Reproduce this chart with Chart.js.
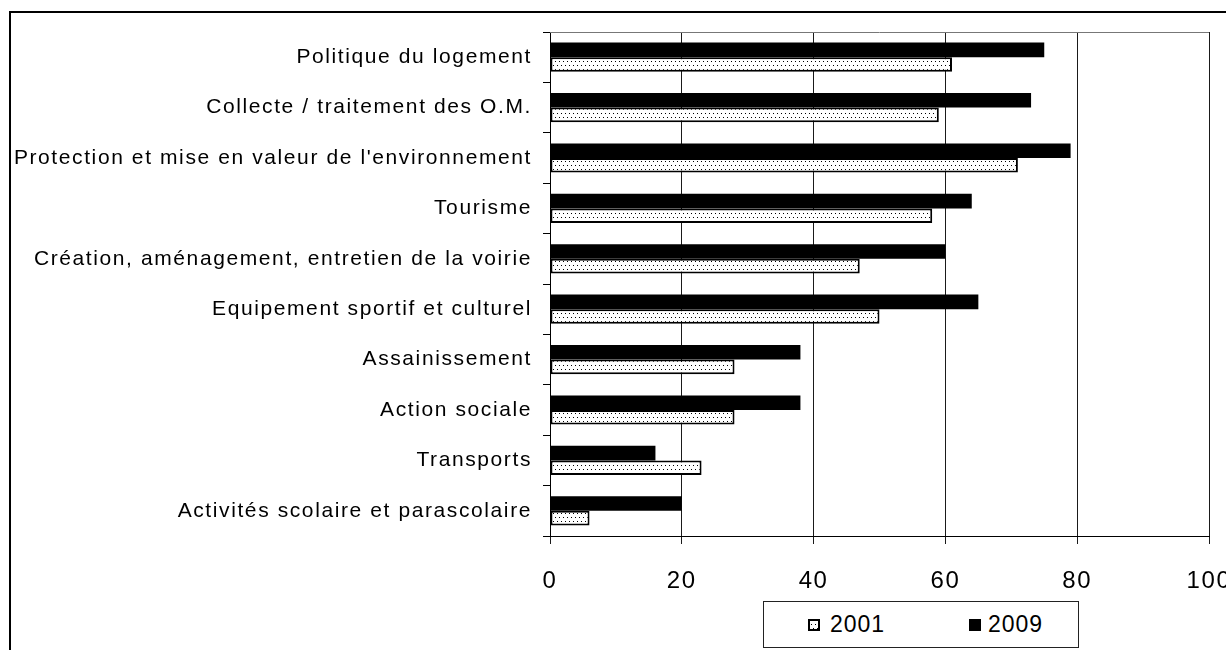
<!DOCTYPE html>
<html>
<head>
<meta charset="utf-8">
<script src="https://cdn.jsdelivr.net/npm/chart.js@4.4.1/dist/chart.umd.min.js"></script>
<style>
  html, body { margin: 0; padding: 0; background: #fff; width: 1226px; height: 650px; overflow: hidden; }
  #chart { position: absolute; left: 0; top: 0; }
  #frame { position: absolute; left: 9px; top: 11px; width: 1400px; height: 900px;
           border-left: 2px solid #000; border-top: 2px solid #000; pointer-events: none; }
  #legend { position: absolute; left: 763px; top: 601px; width: 316px; height: 47px;
            box-sizing: border-box; border: 1px solid #222; background: #fff;
            font-family: 'Liberation Sans', Arial, sans-serif; font-size: 23px; letter-spacing: 1px; color: #000; }
  #legend .sw { position: absolute; top: 17px; }
  #legend .lb { position: absolute; top: 0; line-height: 45px; }
</style>
</head>
<body>
<canvas id="chart" width="1240" height="650"></canvas>
<div id="frame"></div>
<div id="legend"></div>
<script>
// données
const categories = [
  'Politique du logement',
  'Collecte / traitement des O.M.',
  "Protection et mise en valeur de l'environnement",
  'Tourisme',
  'Création, aménagement, entretien de la voirie',
  'Equipement sportif et culturel',
  'Assainissement',
  'Action sociale',
  'Transports',
  'Activités scolaire et parascolaire'
];
const values2001 = [61, 59, 71, 58, 47, 50, 28, 28, 23, 6];
const values2009 = [75, 73, 79, 64, 60, 65, 38, 38, 16, 20];
const xTicks = [0, 20, 40, 60, 80, 100];
const seriesNames = ['2001', '2009'];

const canvas = document.getElementById('chart');
const ctx = canvas.getContext('2d');

// motif pointillé pour 2001
function dotPattern(target) {
  const c = document.createElement('canvas');
  c.width = 4; c.height = 8;
  const g = c.getContext('2d');
  g.fillStyle = '#fff';
  g.fillRect(0, 0, 4, 8);
  g.fillStyle = '#000';
  g.fillRect(1, 1, 1, 1);
  g.fillRect(3, 5, 1, 1);
  return target.createPattern(c, 'repeat');
}
const dots = dotPattern(ctx);

// espacement des lettres + bord haut du cadre
const framePlugin = {
  id: 'framePlugin',
  beforeDraw(chart) {
    chart.ctx.letterSpacing = '1.6px';
  },
  afterDraw(chart) {
    const a = chart.chartArea;
    const c = chart.ctx;
    c.save();
    c.strokeStyle = '#777';
    c.lineWidth = 1;
    c.beginPath();
    c.moveTo(a.left, Math.round(a.top) + 0.5);
    c.lineTo(a.right, Math.round(a.top) + 0.5);
    c.stroke();
    c.restore();
  }
};

const chart = new Chart(canvas, {
  type: 'bar',
  data: {
    labels: categories,
    datasets: [{
      label: seriesNames[1],
      data: values2009,
      backgroundColor: '#000',
      borderWidth: 0
    }, {
      label: seriesNames[0],
      data: values2001,
      backgroundColor: dots,
      borderColor: '#000',
      borderWidth: 2,
      borderSkipped: false
    }]
  },
  options: {
    indexAxis: 'y',
    responsive: false,
    animation: false,
    events: [],
    categoryPercentage: 0.58,
    barPercentage: 1.0,
    layout: { padding: { top: 32, right: 31, bottom: 0, left: 0 } },
    plugins: {
      legend: { display: false },
      tooltip: { enabled: false }
    },
    scales: {
      x: {
        position: 'bottom',
        min: 0,
        max: 100,
        afterBuildTicks: s => { s.ticks = xTicks.map(v => ({ value: v })); },
        afterFit: s => { s.height = 114; s.paddingLeft = 0; s.paddingRight = 0; },
        grid: { color: '#1a1a1a', lineWidth: 1, tickLength: 8, drawTicks: true },
        border: { display: true, color: '#000', width: 1 },
        ticks: {
          color: '#000',
          padding: 23,
          maxRotation: 0,
          font: { family: "'Liberation Sans', Arial, sans-serif", size: 24 }
        }
      },
      y: {
        afterFit: s => { s.width = 550; s.paddingTop = 0; s.paddingBottom = 0; },
        grid: { drawOnChartArea: false, drawTicks: true, tickLength: 7, color: '#000', offset: true },
        border: { display: true, color: '#000', width: 1 },
        ticks: {
          color: '#000',
          padding: 11,
          autoSkip: false,
          font: { family: "'Liberation Sans', Arial, sans-serif", size: 21 }
        }
      }
    }
  },
  plugins: [framePlugin]
});

// légende HTML, dans l'ordre 2001 puis 2009
const legend = document.getElementById('legend');
const slots = [{ sw: 44, lb: 66 }, { sw: 205, lb: 224 }];
chart.data.datasets.slice().reverse().forEach((ds, i) => {
  const sw = document.createElement('canvas');
  sw.width = 12; sw.height = 12;
  sw.className = 'sw';
  sw.style.left = slots[i].sw + 'px';
  const g = sw.getContext('2d');
  if (ds.borderWidth) {
    g.fillStyle = dotPattern(g);
    g.fillRect(0, 0, 12, 12);
    g.strokeStyle = '#000';
    g.lineWidth = 2;
    g.strokeRect(1, 1, 10, 10);
  } else {
    g.fillStyle = ds.backgroundColor;
    g.fillRect(0, 0, 12, 12);
  }
  const lb = document.createElement('span');
  lb.className = 'lb';
  lb.style.left = slots[i].lb + 'px';
  lb.textContent = ds.label;
  legend.appendChild(sw);
  legend.appendChild(lb);
});
</script>
</body>
</html>
